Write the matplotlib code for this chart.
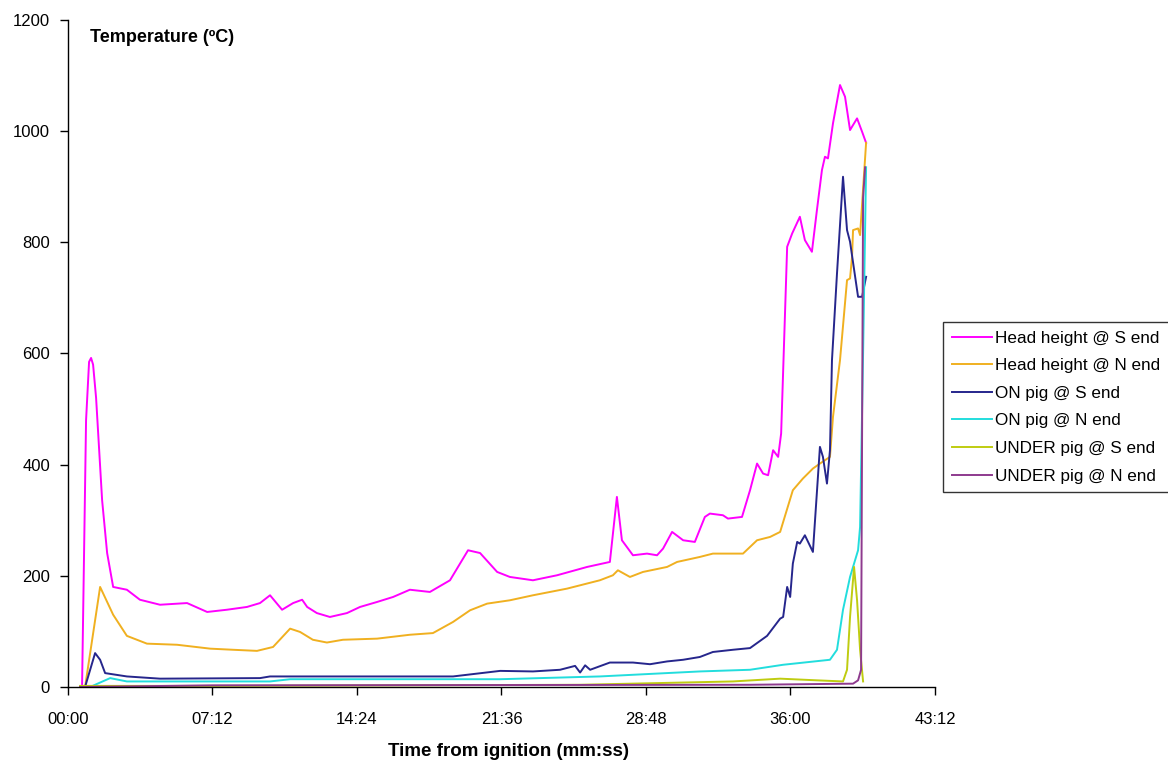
import numpy as np
import matplotlib.pyplot as plt
from matplotlib.ticker import FuncFormatter

plt.rcParams['font.family'] = ['Liberation Sans', 'DejaVu Sans']

# time in seconds from ignition, temperature in deg C
t_head_s = [36, 42, 54, 63, 69, 75, 84, 102, 117, 135, 176, 215, 275, 356, 416, 475, 535, 574, 604, 640,
            673, 700, 715, 744, 783, 834, 873, 924, 972, 1022, 1082, 1142, 1196, 1232, 1283, 1321, 1390,
            1462, 1552, 1620, 1641, 1656, 1689, 1731, 1761, 1779, 1806, 1839, 1874, 1904, 1919, 1958,
            1973, 2015, 2039, 2060, 2078, 2093, 2108, 2123, 2132, 2150, 2165, 2188, 2203, 2224, 2239,
            2254, 2263, 2272, 2287, 2308, 2323, 2338, 2359, 2374, 2386]
head_s = [0, 0, 480, 585, 592, 580, 520, 336, 241, 180, 175, 157, 148, 151, 135, 139, 144, 151, 165, 139,
          151, 157, 144, 133, 126, 133, 144, 153, 162, 175, 171, 192, 246, 241, 207, 198, 192,
          201, 216, 225, 342, 264, 237, 240, 237, 249, 279, 264, 261, 306, 312, 309,
          303, 306, 354, 402, 384, 381, 426, 414, 456, 792, 816, 846, 804, 783, 858,
          930, 954, 951, 1014, 1083, 1062, 1002, 1023, 999, 979]

t_head_n = [51, 96, 135, 176, 236, 326, 425, 493, 565, 613, 664, 694, 732, 774, 822, 924, 1022, 1091,
            1151, 1202, 1253, 1321, 1390, 1492, 1590, 1629, 1644, 1680, 1719, 1791, 1821, 1889, 1928,
            2018, 2060, 2099, 2129, 2167, 2197, 2227, 2248, 2278, 2287, 2308, 2329, 2338, 2344, 2347,
            2362, 2368, 2386]
head_n = [0, 180, 130, 92, 78, 76, 69, 67, 65, 72, 105, 99, 85, 80, 85, 87, 94, 97,
          117, 138, 150, 156, 165, 177, 192, 201, 210, 198, 207, 216, 225, 234, 240,
          240, 264, 270, 279, 354, 375, 393, 402, 414, 486, 588, 732, 735, 774, 822,
          825, 813, 979]

t_on_s = [51, 81, 96, 111, 176, 275, 574, 604, 873, 1151, 1292, 1390, 1471, 1516, 1531, 1546, 1561,
          1620, 1689, 1740, 1791, 1839, 1889, 1928, 1988, 2039, 2090, 2129, 2138, 2150, 2159, 2167,
          2180, 2188, 2203, 2227, 2248, 2257, 2269, 2278, 2284, 2299, 2317, 2329, 2338, 2362, 2374, 2386]
on_s = [0, 61, 49, 25, 19, 15, 16, 19, 19, 19, 29, 28, 31, 38, 26, 39, 31,
        44, 44, 41, 46, 49, 54, 63, 67, 70, 92, 123, 126, 180, 162, 222,
        261, 258, 273, 243, 432, 414, 366, 426, 588, 744, 918, 822, 801, 702, 702, 738]

t_on_n = [66, 126, 176, 604, 664, 1022, 1292, 1590, 1889, 2039, 2138, 2278, 2299, 2317, 2338, 2362,
          2368, 2377, 2386]
on_n = [0, 16, 10, 10, 14, 14, 14, 19, 28, 31, 40, 49, 67, 139, 198, 246, 288, 600, 935]

t_under_s = [36, 433, 1531, 1988, 2129, 2239, 2317, 2329, 2338, 2350, 2359, 2368, 2377]
under_s = [2, 2, 4, 10, 15, 12, 10, 31, 126, 216, 156, 67, 10]

t_under_n = [36, 433, 2039, 2347, 2362, 2371, 2377, 2383]
under_n = [0, 3, 4, 6, 12, 31, 880, 935]

fig = plt.figure(figsize=(11.68, 7.61), dpi=100)
ax = fig.add_axes([68/1168, 1-687/761, 867/1168, 667/761])

ax.plot(t_head_s, head_s, color='#FF00FF', lw=1.4, label='Head height @ S end')
ax.plot(t_head_n, head_n, color='#F0B020', lw=1.4, label='Head height @ N end')
ax.plot(t_on_s, on_s, color='#26268C', lw=1.4, label='ON pig @ S end')
ax.plot(t_on_n, on_n, color='#22DDDD', lw=1.4, label='ON pig @ N end')
ax.plot(t_under_s, under_s, color='#BFCC10', lw=1.4, label='UNDER pig @ S end')
ax.plot(t_under_n, under_n, color='#8E3A8E', lw=1.4, label='UNDER pig @ N end')

ax.set_xlim(0, 2592)
ax.set_ylim(0, 1200)
ax.set_xticks(np.arange(0, 2593, 432))
ax.set_yticks(np.arange(0, 1201, 200))
ax.xaxis.set_major_formatter(FuncFormatter(lambda v, p: '%02d:%02d' % (int(v) // 60, int(v) % 60)))
ax.tick_params(direction='out', length=6, width=1, labelsize=12, colors='black')
ax.tick_params(axis='x', pad=12)
ax.tick_params(axis='y', pad=7)
ax.spines['top'].set_visible(False)
ax.spines['right'].set_visible(False)
for s in ['left', 'bottom']:
    ax.spines[s].set_linewidth(1)

fig.text(90/1168, 1-37/761, 'Temperature (\u00baC)', fontsize=13, fontweight='bold',
         va='center', ha='left')
fig.text(509/1168, 1-752/761, 'Time from ignition (mm:ss)', fontsize=13.5, fontweight='bold',
         ha='center', va='center')

leg = fig.legend(loc='upper left', bbox_to_anchor=(943/1168, 1-322/761), fontsize=12.3,
                 frameon=True, fancybox=False, edgecolor='black', handlelength=2.35,
                 handletextpad=0.2, labelspacing=0.74, borderpad=0.5, borderaxespad=0)
leg.get_frame().set_linewidth(1)

fig.savefig('out.png', dpi=100)
